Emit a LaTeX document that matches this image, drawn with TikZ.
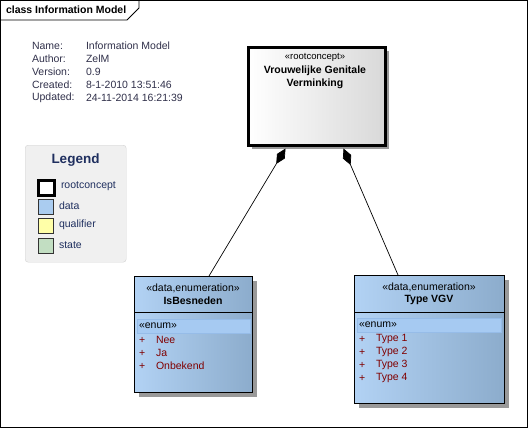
\documentclass[tikz,border=0pt]{standalone}
\usepackage{fontspec}
\setmainfont{Liberation Sans}
\usetikzlibrary{arrows.meta,shadows,calc}
\definecolor{infotext}{HTML}{30304A}
\definecolor{legendblue}{HTML}{1F2F5F}
\definecolor{itemred}{HTML}{800000}
\definecolor{dataL}{HTML}{B2D2F4}
\definecolor{dataR}{HTML}{8CACCC}
\definecolor{bandfill}{HTML}{A6CAF2}
\definecolor{banddraw}{HTML}{96BCE8}
\definecolor{legfill}{HTML}{F0F0F0}
\definecolor{legdraw}{HTML}{D2D2D2}
\definecolor{qualfill}{HTML}{FFFFA8}
\definecolor{statefill}{HTML}{C2DEC2}
\definecolor{legdata}{HTML}{AACCF0}
\tikzset{
  txt/.style={inner sep=0pt, outer sep=0pt, font=\fontsize{10.5}{12}\selectfont},
  btxt/.style={txt, font=\bfseries\fontsize{10.5}{12}\selectfont},
  info/.style={txt, anchor=west, text=infotext},
  enumbox/.style={draw=black, line width=1pt, left color=dataL, right color=dataR,
     drop shadow={shadow xshift=4pt, shadow yshift=-4pt, fill=black!40, opacity=1},
     anchor=north west, inner sep=0pt},
  band/.style={draw=banddraw, fill=bandfill, anchor=north west, inner sep=0pt},
  plus/.style={txt, text=itemred, anchor=west},
  item/.style={txt, text=itemred, anchor=west},
  legsq/.style={draw=black!80, line width=0.8pt, minimum width=15pt, minimum height=15pt, inner sep=0pt, anchor=north west},
  leglbl/.style={txt, anchor=west, text=legendblue},
  comp/.style={line width=0.7pt, -{Diamond[length=18pt,width=9pt]}},
}
\begin{document}
\begin{tikzpicture}[x=1pt,y=-1pt]
\useasboundingbox (0,0) rectangle (529,429);
% frame
\draw[line width=0.8pt] (0.5,0.5) rectangle (527.5,427.5);
\draw[line width=0.8pt] (0.5,20) -- (127,20) -- (139,8) -- (139,0.5);
\node[btxt, anchor=west] (title) at (6,10) {class Information Model};
% info
\node[info] (n1) at (32,46) {Name:};
\node[info] (n2) at (32,59) {Author:};
\node[info] (n3) at (32,72) {Version:};
\node[info] (n4) at (32,85) {Created:};
\node[info] (n5) at (32,98) {Updated:};
\node[info] (v1) at (86,46) {Information Model};
\node[info] (v2) at (86,59) {ZelM};
\node[info] (v3) at (86,72) {0.9};
\node[info] (v4) at (86,85) {8-1-2010 13:51:46};
\node[info] (v5) at (86,98) {24-11-2014 16:21:39};
% legend
\node[draw=legdraw, fill=legfill, rounded corners=3pt, minimum width=101pt, minimum height=117pt, anchor=north west, inner sep=0pt] (legend) at (25,145) {};
\node[txt, font=\bfseries\fontsize{13.5}{15}\selectfont, text=legendblue] (legtitle) at (75.5,160) {Legend};
\node[legsq, draw=black, line width=3pt, fill=white, minimum width=16pt, minimum height=15pt] (sqr) at (36.5,178.5) {};
\node[legsq, fill=legdata] (sqd) at (37.5,198.5) {};
\node[legsq, fill=qualfill] (sqq) at (37.5,217.5) {};
\node[legsq, fill=statefill] (sqs) at (37.5,237.5) {};
\node[leglbl] (lr) at (61,186) {rootconcept};
\node[leglbl] (ld) at (59,206) {data};
\node[leglbl] (lq) at (59,225) {qualifier};
\node[leglbl] (ls) at (59,245) {state};
% root concept
\node[draw=black, line width=3pt, left color=white, middle color=white, right color=black!15,
      drop shadow={shadow xshift=4pt, shadow yshift=-4pt, fill=black!40, opacity=1},
      minimum width=137pt, minimum height=98pt, anchor=north west, inner sep=0pt] (root) at (246.5,45.5) {};
\node[txt, font=\fontsize{9.5}{11}\selectfont] (rst) at (315,57) {«rootconcept»};
\node[btxt] (rn1) at (315,71) {Vrouwelijke Genitale};
\node[btxt] (rn2) at (315,84) {Verminking};
% IsBesneden
\node[enumbox, minimum width=118pt, minimum height=116pt] (isb) at (134,276) {};
\draw[line width=0.8pt] (isb.west |- 0,312) -- (isb.east |- 0,312);
\node[txt] (isbst) at (193,288) {«data,enumeration»};
\node[btxt] (isbn) at (193,301) {IsBesneden};
\node[band, minimum width=113pt, minimum height=14pt] (isbband) at (137,319) {};
\node[txt, anchor=west] (isbenum) at (139,326) {«enum»};
\node[plus] (p1) at (139,340) {+};
\node[plus] (p2) at (139,353) {+};
\node[plus] (p3) at (139,366) {+};
\node[item] (i1) at (156,340) {Nee};
\node[item] (i2) at (156,353) {Ja};
\node[item] (i3) at (156,366) {Onbekend};
% Type VGV
\node[enumbox, minimum width=150pt, minimum height=128pt] (vgv) at (354,275) {};
\draw[line width=0.8pt] (vgv.west |- 0,312) -- (vgv.east |- 0,312);
\node[txt] (vgvst) at (429,287) {«data,enumeration»};
\node[btxt] (vgvn) at (429,300) {Type VGV};
\node[band, minimum width=144pt, minimum height=14pt] (vgvband) at (357,318) {};
\node[txt, anchor=west] (vgvenum) at (359,325) {«enum»};
\node[plus] (q1) at (359,339) {+};
\node[plus] (q2) at (359,352) {+};
\node[plus] (q3) at (359,365) {+};
\node[plus] (q4) at (359,378) {+};
\node[item] (t1) at (376,339) {Type 1};
\node[item] (t2) at (376,352) {Type 2};
\node[item] (t3) at (376,365) {Type 3};
\node[item] (t4) at (376,378) {Type 4};
% connectors
\draw[comp] ($(isb.north west)+(75,0)$) -- ($(root.south west)+(39,2)$);
\draw[comp] ($(vgv.north west)+(44,0)$) -- ($(root.south west)+(97,2)$);
\end{tikzpicture}
\end{document}
